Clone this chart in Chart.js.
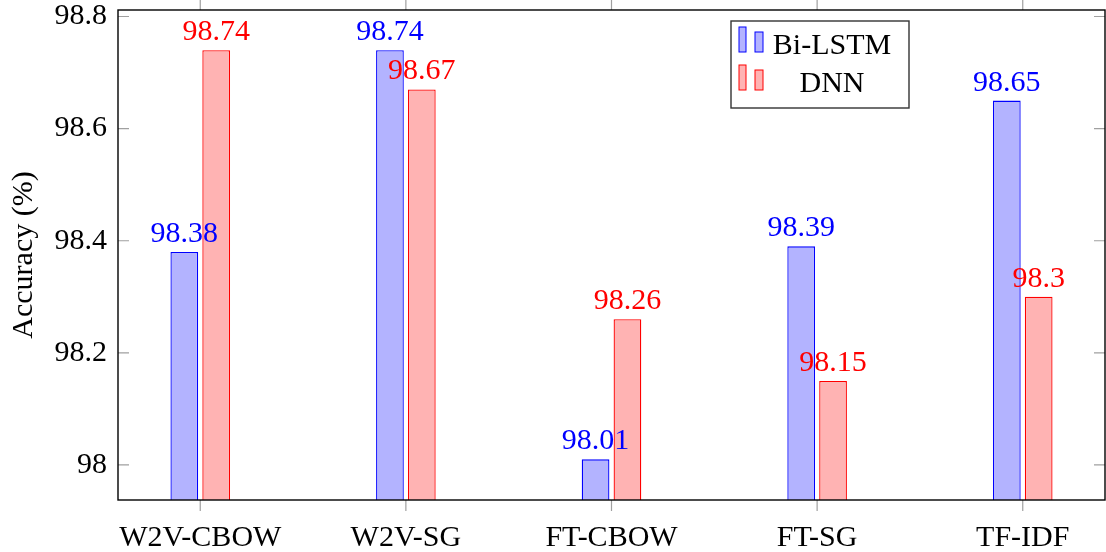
<!DOCTYPE html>
<html>
<head>
<meta charset="utf-8">
<script src="https://cdn.jsdelivr.net/npm/chart.js@4.4.0/dist/chart.umd.min.js"></script>
<style>
  html, body { margin: 0; padding: 0; background: #fff; }
  #wrap { width: 1106px; height: 552px; }
</style>
</head>
<body>
<div id="wrap"><canvas id="accChart" width="1106" height="552"></canvas></div>
<script>
// Данные графика
const categories = ['W2V-CBOW', 'W2V-SG', 'FT-CBOW', 'FT-SG', 'TF-IDF'];
const biLstmValues = [98.38, 98.74, 98.01, 98.39, 98.65];
const dnnValues = [98.74, 98.67, 98.26, 98.15, 98.3];
const seriesNames = ['Bi-LSTM', 'DNN'];
const yTicks = [98, 98.2, 98.4, 98.6, 98.8];
const xTicks = [0, 1, 2, 3, 4];

const FONT = "'Liberation Serif', 'Times New Roman', serif";

// Рамка и штрихи осей в стиле pgfplots
const frameAndTicks = {
  id: 'frameAndTicks',
  afterDraw(chart) {
    const { ctx, chartArea: a, scales: { x, y } } = chart;
    ctx.save();
    ctx.strokeStyle = '#a0a0a0';
    ctx.lineWidth = 1.2;
    ctx.beginPath();
    y.ticks.forEach(t => {
      const py = y.getPixelForValue(t.value);
      ctx.moveTo(a.left, py); ctx.lineTo(a.left + 11, py);
      ctx.moveTo(a.right, py); ctx.lineTo(a.right - 11, py);
    });
    x.ticks.forEach(t => {
      const px = x.getPixelForValue(t.value);
      ctx.moveTo(px, a.top); ctx.lineTo(px, a.top - 11);
      ctx.moveTo(px, a.bottom); ctx.lineTo(px, a.bottom + 11);
    });
    ctx.stroke();
    ctx.strokeStyle = '#000';
    ctx.lineWidth = 1.4;
    ctx.strokeRect(a.left, a.top, a.right - a.left, a.bottom - a.top);
    ctx.restore();
  }
};

// Подписи значений над столбцами
const valueLabels = {
  id: 'valueLabels',
  afterDatasetsDraw(chart) {
    const ctx = chart.ctx;
    ctx.save();
    ctx.font = '30px ' + FONT;
    ctx.textAlign = 'center';
    ctx.textBaseline = 'alphabetic';
    chart.data.datasets.forEach((ds, i) => {
      const meta = chart.getDatasetMeta(i);
      ctx.fillStyle = ds.borderColor;
      meta.data.forEach((bar, j) => {
        ctx.fillText(String(ds.data[j].y), bar.x, bar.y - 10);
      });
    });
    ctx.restore();
  }
};

// Легенда с рамкой (два маленьких столбика как в pgfplots)
const boxLegend = {
  id: 'boxLegend',
  afterDraw(chart) {
    const { ctx, chartArea: a } = chart;
    const left = a.left + 613, top = a.top + 11, w = 178, h = 87;
    ctx.save();
    ctx.fillStyle = '#fff';
    ctx.fillRect(left, top, w, h);
    ctx.strokeStyle = '#333';
    ctx.lineWidth = 1.4;
    ctx.strokeRect(left, top, w, h);
    ctx.font = '30px ' + FONT;
    ctx.textAlign = 'center';
    ctx.textBaseline = 'alphabetic';
    chart.data.datasets.forEach((ds, i) => {
      const rowBottom = top + 31 + i * 38;
      ctx.fillStyle = ds.backgroundColor;
      ctx.strokeStyle = ds.borderColor;
      ctx.lineWidth = 1;
      ctx.fillRect(left + 8, rowBottom - 25, 7, 25);
      ctx.strokeRect(left + 8, rowBottom - 25, 7, 25);
      ctx.fillRect(left + 24, rowBottom - 20, 8, 20);
      ctx.strokeRect(left + 24, rowBottom - 20, 8, 20);
      ctx.fillStyle = '#000';
      ctx.fillText(ds.label, left + 101, rowBottom + 2);
    });
    ctx.restore();
  }
};

const toPoints = vals => vals.map((v, i) => ({ x: i, y: v }));

new Chart(document.getElementById('accChart'), {
  type: 'bar',
  data: {
    datasets: [{
      label: seriesNames[0],
      data: toPoints(biLstmValues),
      backgroundColor: 'rgb(179, 179, 255)',
      borderColor: 'rgb(0, 0, 255)',
      borderWidth: 1.3,
      categoryPercentage: 0.31,
      barPercentage: 0.87
    }, {
      label: seriesNames[1],
      data: toPoints(dnnValues),
      backgroundColor: 'rgb(255, 179, 179)',
      borderColor: 'rgb(255, 0, 0)',
      borderWidth: 1.3,
      categoryPercentage: 0.31,
      barPercentage: 0.87
    }]
  },
  options: {
    responsive: false,
    animation: false,
    devicePixelRatio: 1,
    layout: { padding: { top: 10, right: 1, left: 0, bottom: 0 } },
    plugins: {
      legend: { display: false },
      tooltip: { enabled: false }
    },
    scales: {
      x: {
        type: 'linear',
        offset: false,
        min: -0.4,
        max: 4.4,
        grid: { display: false, offset: false },
        border: { display: false },
        afterBuildTicks: s => { s.ticks = xTicks.map(v => ({ value: v })); },
        afterFit: s => { s.height = 52; s.paddingLeft = 0; s.paddingRight = 0; },
        ticks: {
          autoSkip: false,
          maxRotation: 0,
          padding: 12,
          color: '#000',
          font: { family: FONT, size: 30 },
          callback: v => categories[v]
        }
      },
      y: {
        min: 97.9375,
        max: 98.8116,
        grid: { display: false },
        border: { display: false },
        afterBuildTicks: s => { s.ticks = yTicks.map(v => ({ value: v })); },
        afterFit: s => { s.width = 118; s.paddingTop = 0; s.paddingBottom = 0; },
        ticks: {
          padding: 3,
          color: '#000',
          font: { family: FONT, size: 30 },
          callback: v => String(v)
        },
        title: {
          display: true,
          text: 'Accuracy (%)',
          color: '#000',
          padding: { top: 6, bottom: 0 },
          font: { family: FONT, size: 30 }
        }
      }
    }
  },
  plugins: [frameAndTicks, valueLabels, boxLegend]
});
</script>
</body>
</html>
